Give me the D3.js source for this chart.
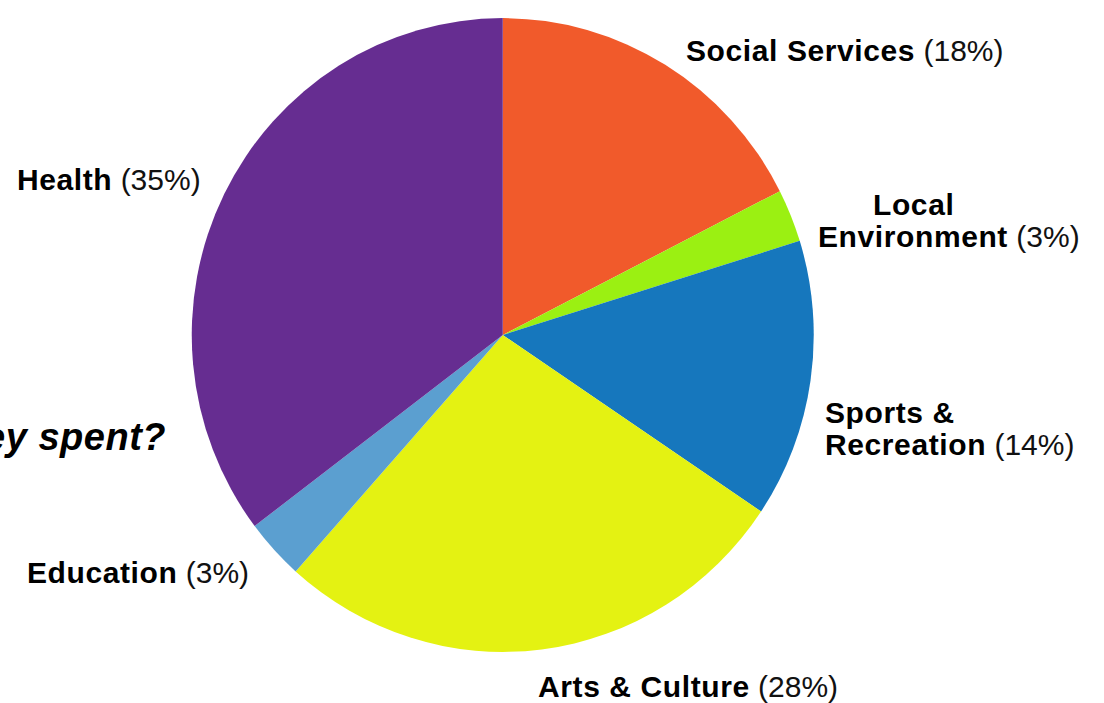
<!DOCTYPE html>
<html>
<head>
<meta charset="utf-8">
<script src="https://cdn.jsdelivr.net/npm/d3@7/dist/d3.min.js"></script>
<style>
  html, body { margin: 0; padding: 0; background: #fff; }
  svg { display: block; }
  text { font-family: "Liberation Sans", Arial, sans-serif; fill: #000; }
</style>
</head>
<body>
<div id="chart"></div>
<script>
// slice data, clockwise from 12 o'clock
const categories = ['Social Services', 'Local Environment', 'Sports & Recreation', 'Arts & Culture', 'Education', 'Health'];
const values = [17.5, 2.7, 14.2, 27.2, 3.1, 35.3];
const pctLabels = ['18%', '3%', '14%', '28%', '3%', '35%'];
const colors = ['#f15a2b', '#9bf012', '#1677bd', '#e4f212', '#5b9fd0', '#662d91'];

const width = 1104, height = 703;
const cx = 502.75, cy = 335, r = 311;

const svg = d3.select('#chart').append('svg')
  .attr('width', width)
  .attr('height', height);

// title, mostly off the left edge like in the original slide
svg.append('text')
  .attr('x', 166)
  .attr('y', 450)
  .attr('text-anchor', 'end')
  .style('font-size', '38px')
  .style('font-weight', 'bold')
  .style('font-style', 'italic')
  .style('letter-spacing', '0.5px')
  .text('How is the money spent?');

const pie = d3.pie().sort(null).value(d => d);
const arc = d3.arc().innerRadius(0).outerRadius(r);

const g = svg.append('g')
  .attr('transform', `translate(${cx},${cy}) scale(1,1.019)`);

g.selectAll('path')
  .data(pie(values))
  .enter()
  .append('path')
  .attr('d', arc)
  .attr('fill', (d, i) => colors[i]);

// label placement, one entry per slice
const labels = [
  { i: 0, x: 686, lines: [{ t: 'Social Services', y: 61, pct: true }] },
  { i: 1, x: 818, lines: [{ t: 'Local', y: 215, dx: 55 }, { t: 'Environment', y: 247, pct: true }] },
  { i: 2, x: 825, lines: [{ t: 'Sports &', y: 423 }, { t: 'Recreation', y: 455, pct: true }] },
  { i: 3, x: 538, lines: [{ t: 'Arts & Culture', y: 697, pct: true }] },
  { i: 4, x: 27, lines: [{ t: 'Education', y: 583, pct: true }] },
  { i: 5, x: 17, lines: [{ t: 'Health', y: 190, pct: true }] }
];

labels.forEach(l => {
  l.lines.forEach(line => {
    const txt = svg.append('text')
      .attr('x', l.x + (line.dx || 0))
      .attr('y', line.y)
      .style('font-size', '30px');
    txt.append('tspan')
      .style('font-weight', 'bold')
      .style('letter-spacing', '0.6px')
      .text(line.t);
    if (line.pct) {
      txt.append('tspan')
        .style('font-weight', 'normal')
        .style('fill', '#111')
        .text(' (' + pctLabels[l.i] + ')');
    }
  });
});
</script>
</body>
</html>
